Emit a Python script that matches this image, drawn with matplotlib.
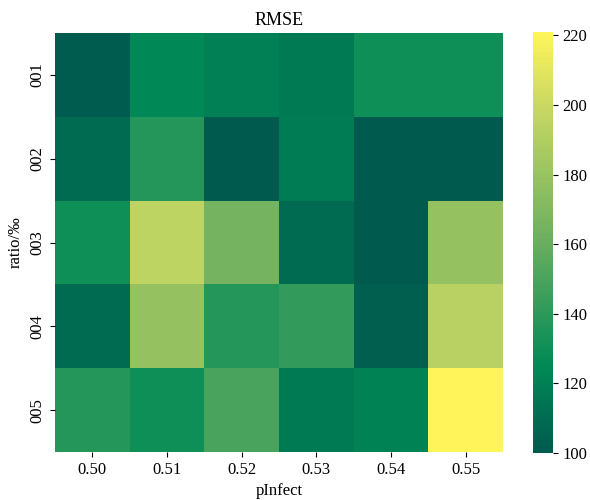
import numpy as np
import pandas as pd
import seaborn as sns
import matplotlib.pyplot as plt
from matplotlib.colors import LinearSegmentedColormap

p_infect = ['0.50', '0.51', '0.52', '0.53', '0.54', '0.55']
ratios = ['001', '002', '003', '004', '005']

# RMSE per ratio (rows) and pInfect (columns)
rmse_001 = [101, 125, 120, 117, 130, 130]
rmse_002 = [109, 137, 100, 118, 100, 100.5]
rmse_003 = [130, 195, 165, 109, 100, 178]
rmse_004 = [109, 178, 137, 142, 103, 193]
rmse_005 = [137, 130, 150, 117, 121, 221]

df = pd.DataFrame([rmse_001, rmse_002, rmse_003, rmse_004, rmse_005],
                  index=ratios, columns=p_infect)

cmap = LinearSegmentedColormap.from_list(
    'rmse', [(0.0, '#005a4e'), (0.208, '#008a56'), (0.5, '#6aae60'),
             (0.833, '#cbd962'), (1.0, '#fff55a')])

plt.rcParams['font.family'] = ['Liberation Serif', 'DejaVu Serif']
plt.rcParams['font.size'] = 12

fig = plt.figure(figsize=(5.9, 5.0), dpi=100)
ax = fig.add_axes([55 / 590, 1 - 452 / 500, 448 / 590, 419 / 500])
cax = fig.add_axes([533 / 590, 1 - 453 / 500, 20 / 590, 421 / 500])

sns.heatmap(df, cmap=cmap, ax=ax, cbar_ax=cax)
ax.set_title('RMSE', fontsize=13)
ax.set_xlabel('pInfect', fontsize=12)
ax.set_ylabel('ratio/‰', fontsize=12)
ax.tick_params(axis='both', labelsize=12)
cax.tick_params(labelsize=12)

fig.savefig('out.png', dpi=100)
